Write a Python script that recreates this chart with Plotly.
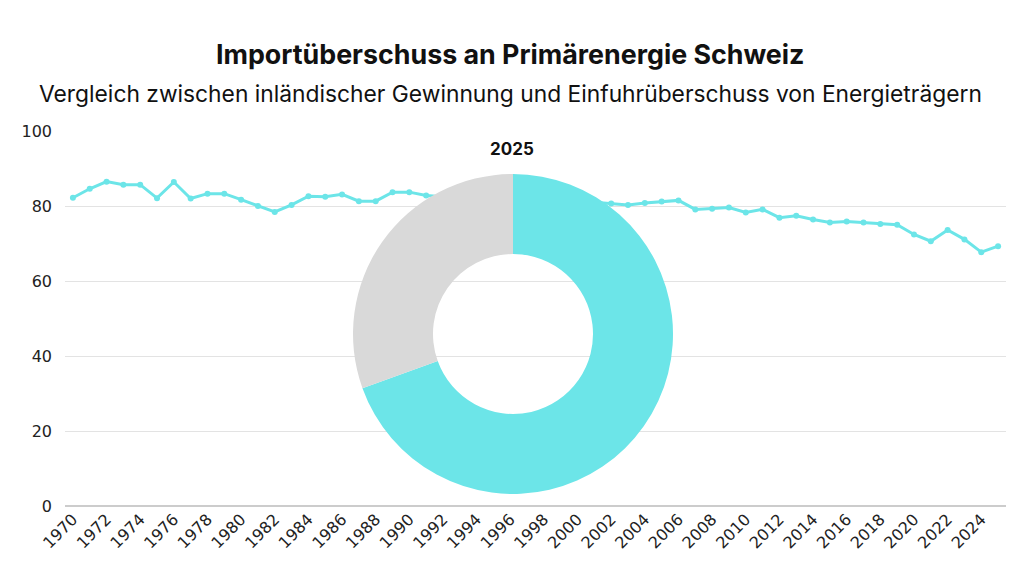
import plotly.graph_objects as go

years = list(range(1970, 2026))
import_share = [
    82.2, 84.6, 86.5, 85.7, 85.7, 82.1, 86.4, 82.0, 83.3, 83.3,
    81.7, 80.0, 78.4, 80.3, 82.6, 82.5, 83.1, 81.3, 81.3, 83.7,
    83.7, 82.8, 82.5, 81.0, 80.0, 80.5, 81.7, 80.6, 81.3, 80.3,
    80.5, 81.0, 80.7, 80.3, 80.8, 81.2, 81.5, 79.1, 79.3, 79.6,
    78.3, 79.1, 76.9, 77.4, 76.4, 75.6, 75.9, 75.6, 75.2, 75.0,
    72.4, 70.6, 73.6, 71.1, 67.7, 69.3,
]
x_tick_years = list(range(1970, 2025, 2))
y_ticks = [0, 20, 40, 60, 80, 100]

pie_labels = ["Einfuhrüberschuss", "Inländische Gewinnung"]
pie_values = [69.5, 30.5]
pie_title = "2025"

title = "Importüberschuss an Primärenergie Schweiz"
subtitle = "Vergleich zwischen inländischer Gewinnung und Einfuhrüberschuss von Energieträgern"

CYAN = "#6ce5e8"
GRAY = "#d9d9d9"

# page offset compensation (body margin of the html page)
OFF = 7
pl, pt = 64 - OFF, 130 - OFF
pr, pb = 1024 - (1005 - OFF), 576 - (505 - OFF)
pw, ph = 1024 - pl - pr, 576 - pt - pb


def px_to_paper(x, y_top):
    return (x - OFF - pl) / pw, (576 - (y_top - OFF) - pb) / ph


pie_x0, _ = px_to_paper(352, 0)
pie_x1, _ = px_to_paper(672, 0)
_, pie_y1 = px_to_paper(0, 173)
_, pie_y0 = px_to_paper(0, 493)

fig = go.Figure()
fig.add_trace(go.Scatter(
    x=years, y=import_share, mode="lines+markers",
    line=dict(color=CYAN, width=3),
    marker=dict(color=CYAN, size=6),
    showlegend=False,
))
fig.add_trace(go.Pie(
    labels=pie_labels, values=pie_values,
    hole=0.5, sort=False, direction="clockwise", rotation=0,
    marker=dict(colors=[CYAN, GRAY], line=dict(width=0)),
    textinfo="none", showlegend=False,
    domain=dict(x=[pie_x0, pie_x1], y=[pie_y0, pie_y1]),
))

tx, ty = px_to_paper(509, 53)
sx, sy = px_to_paper(509, 92)
yx, yy = px_to_paper(511, 148)

fig.update_layout(
    width=1024, height=576,
    margin=dict(l=pl, r=pr, t=pt, b=pb, autoexpand=False),
    paper_bgcolor="white", plot_bgcolor="white",
    font=dict(family="DejaVu Sans", color="#333333", size=16),
    xaxis=dict(
        range=[1969.53, 2025.47],
        tickmode="array", tickvals=x_tick_years,
        ticktext=[str(y) for y in x_tick_years],
        tickangle=-45, showgrid=False, zeroline=False,
        showline=False, ticks="",
        tickfont=dict(family="DejaVu Sans", size=16, color="#222222"),
    ),
    yaxis=dict(
        range=[0, 100], tickmode="array", tickvals=y_ticks,
        showgrid=True, gridcolor="#e3e3e3", gridwidth=1,
        zeroline=True, zerolinecolor="#cccccc", zerolinewidth=1.5,
        ticks="", ticklabelstandoff=12,
        tickfont=dict(family="DejaVu Sans", size=16, color="#222222"),
    ),
    annotations=[
        dict(text="<b>" + title + "</b>", x=tx, y=ty,
             xref="paper", yref="paper", showarrow=False,
             xanchor="center", yanchor="middle",
             font=dict(family="Inter", size=26.8, color="#111111")),
        dict(text=subtitle, x=sx, y=sy,
             xref="paper", yref="paper", showarrow=False,
             xanchor="center", yanchor="middle",
             font=dict(family="Inter", size=22.8, color="#111111")),
        dict(text="<b>" + pie_title + "</b>", x=yx, y=yy,
             xref="paper", yref="paper", showarrow=False,
             xanchor="center", yanchor="middle",
             font=dict(family="Inter", size=17, color="#111111")),
    ],
)

fig.write_html("out.html")
